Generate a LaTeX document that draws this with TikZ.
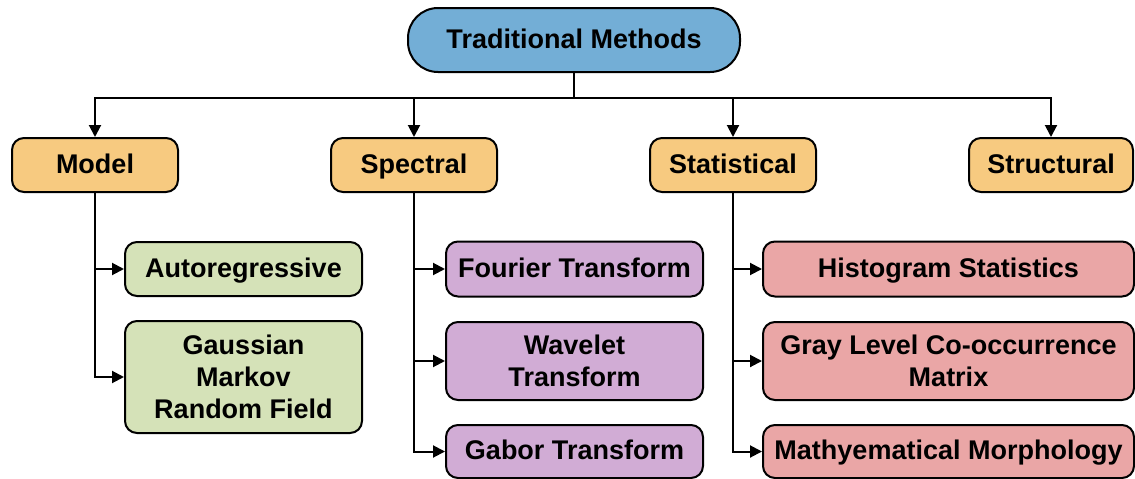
\documentclass[tikz,border=0pt]{standalone}
\usepackage{fontspec}
\setmainfont{Liberation Sans}
\usetikzlibrary{arrows.meta}
\definecolor{cblue}{RGB}{115,174,214}
\definecolor{corange}{RGB}{247,202,128}
\definecolor{cgreen}{RGB}{213,226,184}
\definecolor{cpurple}{RGB}{209,172,213}
\definecolor{cpink}{RGB}{234,166,166}
\tikzset{
  box/.style={draw=black, line width=2pt, rounded corners=12pt, align=center,
    font=\fontsize{27}{32}\selectfont\bfseries, inner sep=0pt, text=black},
  oneline/.style={text height=20pt, text depth=4pt},
  topbox/.style={box, oneline, fill=cblue, rounded corners=30pt},
  catbox/.style={box, oneline, fill=corange, minimum width=166pt, minimum height=54pt},
  greenbox/.style={box, fill=cgreen, minimum width=237pt},
  purplebox/.style={box, fill=cpurple, minimum width=257pt},
  pinkbox/.style={box, fill=cpink, minimum width=371pt},
  conn/.style={draw=black, line width=2pt},
  arr/.style={conn, -{Triangle[length=12pt,width=12pt]}}
}
\begin{document}
\begin{tikzpicture}[x=1pt,y=-1pt]
\useasboundingbox (0,0) rectangle (1135,479);
\node[topbox, minimum width=332pt, minimum height=64pt] (top) at (574,40) {Traditional Methods};
\node[catbox] (model) at (95,165) {Model};
\node[catbox] (spectral) at (414,165) {Spectral};
\node[catbox] (statistical) at (733,165) {Statistical};
\node[catbox, minimum width=164pt] (structural) at (1051,165) {Structural};

\node[greenbox, oneline, minimum height=54pt] (auto) at (243.5,269) {Autoregressive};
\node[greenbox, minimum height=112pt] (gauss) at (243.5,377) {Gaussian\\Markov\\Random Field};

\node[purplebox, oneline, minimum height=55pt] (fourier) at (574.5,269) {Fourier Transform};
\node[purplebox, minimum height=78pt] (wavelet) at (574.5,361) {Wavelet\\Transform};
\node[purplebox, oneline, minimum height=53pt] (gabor) at (574.5,451.5) {Gabor Transform};

\node[pinkbox, oneline, minimum height=55pt] (hist) at (948.5,269) {Histogram Statistics};
\node[pinkbox, minimum height=78pt] (glcm) at (948.5,361) {Gray Level Co-occurrence\\Matrix};
\node[pinkbox, oneline, minimum height=53pt] (morph) at (948.5,451.5) {Mathyematical Morphology};

\coordinate (bus) at (574,98);
\draw[conn] (top.south) -- (bus);
\draw[arr] (bus) -| (model.north);
\draw[arr] (bus) -| (spectral.north);
\draw[arr] (bus) -| (statistical.north);
\draw[arr] (bus) -| (structural.north);

\draw[arr] (model.south) |- (auto.west);
\draw[arr] (model.south) |- (gauss.west);
\draw[arr] (spectral.south) |- (fourier.west);
\draw[arr] (spectral.south) |- (wavelet.west);
\draw[arr] (spectral.south) |- (gabor.west);
\draw[arr] (statistical.south) |- (hist.west);
\draw[arr] (statistical.south) |- (glcm.west);
\draw[arr] (statistical.south) |- (morph.west);
\end{tikzpicture}
\end{document}
